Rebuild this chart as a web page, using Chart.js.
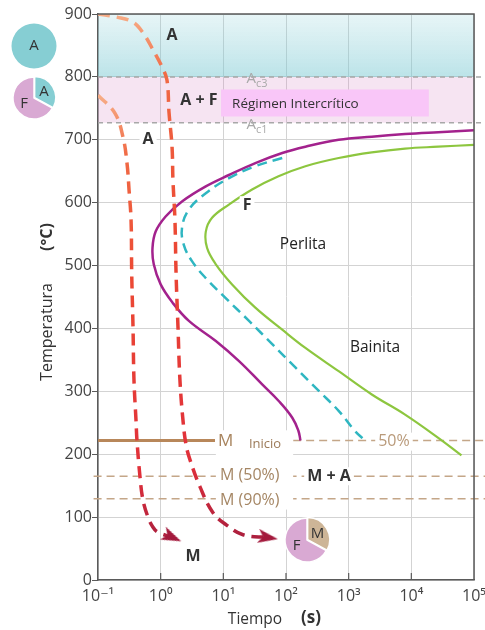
<!DOCTYPE html>
<html lang="es">
<head>
<meta charset="utf-8">
<title>Diagrama de enfriamiento continuo</title>
<script src="https://cdn.jsdelivr.net/npm/chart.js@4.4.1/dist/chart.umd.min.js"></script>
<style>
  html, body { margin: 0; padding: 0; background: #fff; }
  #wrap { position: relative; width: 485px; height: 630px; overflow: hidden; }
  #wrap canvas { position: absolute; }
</style>
</head>
<body>
<div id="wrap">
  <canvas id="cct" width="485" height="630" style="left:0;top:0"></canvas>
  <canvas id="pieAust" width="50" height="50" style="left:9px;top:21px"></canvas>
  <canvas id="pieInter" width="56" height="56" style="left:6px;top:70px"></canvas>
  <canvas id="pieFinal" width="56" height="56" style="left:279px;top:512px"></canvas>
</div>
<script>
// ---------- axes ----------
const TIME_TICKS = [0.1, 1, 10, 100, 1000, 10000, 100000];
const TIME_TICK_LABELS = ['10⁻¹', '10⁰', '10¹', '10²', '10³', '10⁴', '10⁵'];
const TEMP_MIN = 0, TEMP_MAX = 900, TEMP_STEP = 100;

// ---------- critical temperatures (°C) ----------
const AC3 = 800;
const AC1 = 727;
const MS_START = 222;
const M_50 = 165;
const M_90 = 129;

// ---------- curves: [time (s), temperature (°C)] ----------
const coolFast = [[0.1,771],[0.187,742],[0.251,704],[0.29,663],[0.313,620],[0.337,572],[0.345,488],
  [0.362,402],[0.375,318],[0.404,254],[0.418,223],[0.468,164],[0.522,127],[0.628,100],[0.755,84],
  [0.906,76],[1.52,68]];
const coolSlow = [[0.1,900],[0.201,895],[0.361,887],[0.523,870],[0.755,843],[1.05,816],[1.26,795],
  [1.36,743],[1.52,688],[1.57,636],[1.69,572],[1.76,488],[1.89,402],[2.03,318],[2.27,254],[2.54,215],
  [2.94,191],[4.25,148],[6.84,107],[11.4,87],[20.6,72],[51.6,67.6]];
const ferriteStart = [[1e5,715],[26900,712],[7940,709],[2340,705],[692,700],[204,689],[87.1,679],
  [32.4,663],[12.3,644],[5.25,626],[2.19,602],[1.2,578],[0.832,554],[0.741,528],[0.776,502],[1.0,470],
  [1.55,441],[2.82,412],[7.59,380],[17.8,348],[41.7,311],[75.9,285],[126,258],[158,237],[170,222]];
const pearlite50 = [[87.1,671],[32.4,658],[12.3,639],[5.25,615],[2.82,589],[2.19,560],[2.34,533],
  [3.16,507],[5.25,480],[10.7,449],[25.7,412],[60.3,375],[141,338],[331,301],[692,269],[1259,237],
  [1820,222]];
const transformEnd = [[1e5,692],[26900,689],[7940,686],[2340,680],[692,671],[204,658],[75.9,642],
  [28.8,621],[12.3,597],[6.61,576],[5.25,554],[5.5,528],[7.59,502],[13.8,470],[32.4,433],[87.1,398],
  [204,369],[692,332],[2340,295],[7940,263],[26900,226],[63100,198]];

// ---------- horizontal reference lines: [time (s), temperature (°C)] ----------
const ac3Line = [[0.1, AC3], [1.5e5, AC3]];
const ac1Line = [[0.1, AC1], [1.5e5, AC1]];
const msSolid = [[0.1, MS_START], [7.36, MS_START]];
const msDashed = [[130, MS_START], [1.5e5, MS_START]];
const m50Line = [[0.085, M_50], [1.5e5, M_50]];
const m90Line = [[0.085, M_90], [1.5e5, M_90]];

// ---------- phase fractions for the small pies (%) ----------
const pieAustLabels = ['A'];           const pieAustValues = [100];
const pieInterLabels = ['A', 'F'];     const pieInterValues = [33, 67];
const pieFinalLabels = ['M', 'F'];     const pieFinalValues = [33, 67];

const FONT = '"Open Sans", "DejaVu Sans", sans-serif';
const pts = arr => arr.map(([x, y]) => ({ x, y }));

// chevron arrowhead used at the end of the cooling paths
const arrowHead = (() => {
  const c = document.createElement('canvas');
  c.width = 20; c.height = 14;
  const g = c.getContext('2d');
  g.fillStyle = '#a3193c';
  g.beginPath(); g.moveTo(0, 0); g.lineTo(20, 7); g.lineTo(0, 14); g.lineTo(5, 7); g.closePath(); g.fill();
  return c;
})();

function coolGradient(startT) {
  return (c) => {
    const chart = c.chart, a = chart.chartArea;
    if (!a) return '#e84530';
    const y = chart.scales.y;
    const y0 = y.getPixelForValue(startT), y1 = y.getPixelForValue(60);
    const g = chart.ctx.createLinearGradient(0, y0, 0, y1);
    const f = Math.min(0.4, 60 / (y1 - y0));
    g.addColorStop(0, '#f7ae88');
    g.addColorStop(f, '#f06a45');
    g.addColorStop(0.4, '#ec4a34');
    g.addColorStop(0.85, '#e0303a');
    g.addColorStop(1, '#a81e3e');
    return g;
  };
}

function coolingSet(arr, angle) {
  const last = arr.length - 1;
  return {
    data: pts(arr), borderColor: coolGradient(arr[0][1]), borderWidth: 3.5, borderDash: [12, 7],
    tension: 0.4, pointStyle: arrowHead, rotation: angle,
    pointRadius: c => (c.dataIndex === last ? 6 : 0), order: 1
  };
}
function curveSet(arr, color, width, dash) {
  return { data: pts(arr), borderColor: color, borderWidth: width, borderDash: dash || [],
    tension: 0.4, pointRadius: 0, order: 2 };
}
function hLine(arr, color, width, dash) {
  return { data: pts(arr), borderColor: color, borderWidth: width, borderDash: dash || [],
    pointRadius: 0, clip: false, order: 5 };
}
function band(top, bottom, color) {
  return { data: pts([[0.1, top], [1e5, top]]), fill: { value: bottom }, backgroundColor: color,
    borderWidth: 0, pointRadius: 0, order: 10 };
}
const hotFill = (c) => {
  const chart = c.chart;
  if (!chart.chartArea) return 'rgba(120,200,210,0.35)';
  const y = chart.scales.y;
  const g = chart.ctx.createLinearGradient(0, y.getPixelForValue(TEMP_MAX), 0, y.getPixelForValue(AC3));
  g.addColorStop(0, 'rgba(135,205,214,0.2)');
  g.addColorStop(1, 'rgba(120,200,210,0.5)');
  return g;
};

const datasets = [
  band(TEMP_MAX, AC3, hotFill),
  band(AC3, AC1, 'rgba(214,130,196,0.22)'),
  hLine(ac3Line, '#a8a8a8', 1.5, [5, 4]),
  hLine(ac1Line, '#a8a8a8', 1.5, [5, 4]),
  hLine(msSolid, '#b8875a', 3),
  hLine(msDashed, '#c4a688', 1.5, [8, 5]),
  hLine(m50Line, '#c4a688', 1.5, [8, 5]),
  hLine(m90Line, '#c4a688', 1.5, [8, 5]),
  curveSet(transformEnd, '#8dc63f', 2.2),
  curveSet(pearlite50, '#2fb6c1', 2.5, [10, 6]),
  curveSet(ferriteStart, '#a3228d', 2.5),
  coolingSet(coolSlow, 9),
  coolingSet(coolFast, 24)
];

// labels, frame and axis titles drawn over the plot
const decor = {
  id: 'decor',
  afterDatasetsDraw(chart) {
    const { ctx, chartArea: a, scales: { x, y } } = chart;
    const px = t => x.getPixelForValue(t), py = T => y.getPixelForValue(T);
    ctx.save();

    // frame (top and right sides)
    ctx.strokeStyle = '#5a5a5a'; ctx.lineWidth = 1.5; ctx.setLineDash([]);
    ctx.beginPath();
    ctx.moveTo(a.left, a.top); ctx.lineTo(a.right, a.top); ctx.lineTo(a.right, a.bottom);
    ctx.stroke();
    // inner tick marks on the time axis
    ctx.lineWidth = 1.2;
    TIME_TICKS.slice(1, -1).forEach(t => {
      ctx.beginPath(); ctx.moveTo(px(t), a.bottom); ctx.lineTo(px(t), a.bottom - 7); ctx.stroke();
    });

    const text = (s, x0, y0, o = {}) => {
      ctx.font = `${o.bold ? 'bold ' : ''}${o.size || 16}px ${FONT}`;
      ctx.textAlign = o.align || 'center'; ctx.textBaseline = o.base || 'middle';
      if (o.bg) {
        const w = ctx.measureText(s).width, h = (o.size || 16) + 2;
        const lx = ctx.textAlign === 'left' ? x0 : x0 - w / 2;
        ctx.fillStyle = o.bg; ctx.fillRect(lx - 3, y0 - h / 2, w + 6, h);
      }
      ctx.fillStyle = o.color || '#333';
      ctx.fillText(s, x0, y0);
    };

    // intercritical label box
    const bx0 = px(9.2), bx1 = px(1.9e4), by0 = py(780), by1 = py(737);
    ctx.fillStyle = '#f9c6f8';
    ctx.fillRect(bx0, by0, bx1 - bx0, by1 - by0);
    text('Régimen Intercrítico', bx0 + 11, (by0 + by1) / 2 + 1, { size: 13.5, align: 'left', color: '#333' });

    // critical temperature names
    const critical = (sub, T) => {
      const x0 = px(23.5), y0 = py(T);
      ctx.font = `15px ${FONT}`; ctx.textAlign = 'left'; ctx.textBaseline = 'alphabetic';
      ctx.fillStyle = '#a9a9a9';
      ctx.fillText('A', x0, y0 + 6);
      const w = ctx.measureText('A').width;
      ctx.font = `11px ${FONT}`;
      ctx.fillText(sub, x0 + w, y0 + 10);
    };
    critical('c3', AC3);
    critical('c1', AC1);

    // phase labels
    text('A', px(1.52), py(866), { bold: true });
    text('A + F', px(4.09), py(762), { bold: true });
    text('A', px(0.63), py(700), { bold: true, bg: '#fff' });
    text('F', px(23.9), py(596), { bold: true, bg: '#fff' });
    text('Perlita', px(187), py(533), { size: 15.5, color: '#222' });
    text('Bainita', px(2630), py(369), { size: 15.5, color: '#222' });
    text('M', px(3.28), py(38), { bold: true });

    // martensite labels
    ctx.fillStyle = '#fff';
    ctx.fillRect(px(7.6), py(238), px(130) - px(7.6), py(112) - py(238));
    text('M', px(8.22), py(221), { size: 17, align: 'left', color: '#a8845e' });
    text('Inicio', px(46.2), py(216), { size: 13, color: '#9c7a58' });
    text('M (50%)', px(8.85), py(167), { size: 16, align: 'left', color: '#a58664' });
    text('M (90%)', px(8.85), py(126), { size: 16, align: 'left', color: '#a58664' });
    text('50%', px(5285), py(220), { size: 16, color: '#b99a7a', bg: '#fff' });
    text('M + A', px(485), py(165), { bold: true, color: '#333', bg: '#fff' });

    // axis titles
    text('Tiempo', 255, 620, { size: 15.5, color: '#333' });
    text('(s)', 311, 618, { size: 17, bold: true, color: '#333' });
    ctx.save();
    ctx.translate(47, 332); ctx.rotate(-Math.PI / 2);
    text('Temperatura', 0, 0, { size: 16, color: '#333' });
    ctx.restore();
    ctx.save();
    ctx.translate(47, 237); ctx.rotate(-Math.PI / 2);
    text('(°C)', 0, 0, { size: 16, bold: true, color: '#333' });
    ctx.restore();

    ctx.restore();
  }
};

new Chart(document.getElementById('cct'), {
  type: 'line',
  data: { datasets },
  options: {
    responsive: false,
    animation: false,
    events: [],
    layout: { padding: { top: 14, right: 11, left: 0, bottom: 0 } },
    plugins: { legend: { display: false }, tooltip: { enabled: false } },
    scales: {
      x: {
        type: 'logarithmic', min: TIME_TICKS[0], max: TIME_TICKS[TIME_TICKS.length - 1],
        afterBuildTicks: s => { s.ticks = TIME_TICKS.map(v => ({ value: v })); },
        afterFit: s => { s.height = 50; s.paddingLeft = 0; s.paddingRight = 0; },
        ticks: { callback: (v, i) => TIME_TICK_LABELS[i], autoSkip: false, maxRotation: 0,
                 padding: 7, color: '#444', font: { family: FONT, size: 16 } },
        grid: { color: '#d3d3d3', lineWidth: 1, drawTicks: false },
        border: { color: '#5a5a5a', width: 1.5 }
      },
      y: {
        type: 'linear', min: TEMP_MIN, max: TEMP_MAX,
        afterFit: s => { s.width = 98; s.paddingTop = 0; s.paddingBottom = 0; },
        ticks: { stepSize: TEMP_STEP, padding: 0, color: '#444', font: { family: FONT, size: 16 } },
        grid: { color: '#d3d3d3', lineWidth: 1, tickColor: '#5a5a5a', tickLength: 6 },
        border: { color: '#5a5a5a', width: 1.5 }
      }
    }
  },
  plugins: [decor]
});

// ---------- phase pies ----------
const sliceLabels = {
  id: 'sliceLabels',
  afterDatasetsDraw(chart) {
    const { ctx } = chart;
    const names = chart.data.labels;
    ctx.save();
    ctx.font = `15px ${FONT}`; ctx.fillStyle = '#333';
    ctx.textAlign = 'center'; ctx.textBaseline = 'middle';
    chart.getDatasetMeta(0).data.forEach((arc, i) => {
      const p = arc.getProps(['x', 'y', 'startAngle', 'endAngle', 'outerRadius'], true);
      let lx = p.x, ly = p.y;
      if (p.endAngle - p.startAngle < Math.PI * 2 - 1e-3) {
        const mid = (p.startAngle + p.endAngle) / 2;
        lx += Math.cos(mid) * p.outerRadius * 0.55;
        ly += Math.sin(mid) * p.outerRadius * 0.55;
      }
      ctx.fillText(names[i], lx, ly);
    });
    ctx.restore();
  }
};
const PHASE_COLORS = { A: '#86ced3', F: '#d9a9d3', M: '#cdb597' };
function pie(id, labels, values, radius, offset) {
  new Chart(document.getElementById(id), {
    type: 'pie',
    data: { labels, datasets: [{ data: values, backgroundColor: labels.map(l => PHASE_COLORS[l]),
      borderColor: '#fff', borderWidth: labels.length > 1 ? 1.5 : 0,
      offset: labels.map((l, i) => (i === 0 && labels.length > 1 ? offset : 0)), hoverOffset: 0 }] },
    options: { responsive: false, animation: false, events: [], radius,
      plugins: { legend: { display: false }, tooltip: { enabled: false } } },
    plugins: [sliceLabels]
  });
}
pie('pieAust', pieAustLabels, pieAustValues, 22.5, 0);
pie('pieInter', pieInterLabels, pieInterValues, 21, 3);
pie('pieFinal', pieFinalLabels, pieFinalValues, 22, 3);
</script>
</body>
</html>
